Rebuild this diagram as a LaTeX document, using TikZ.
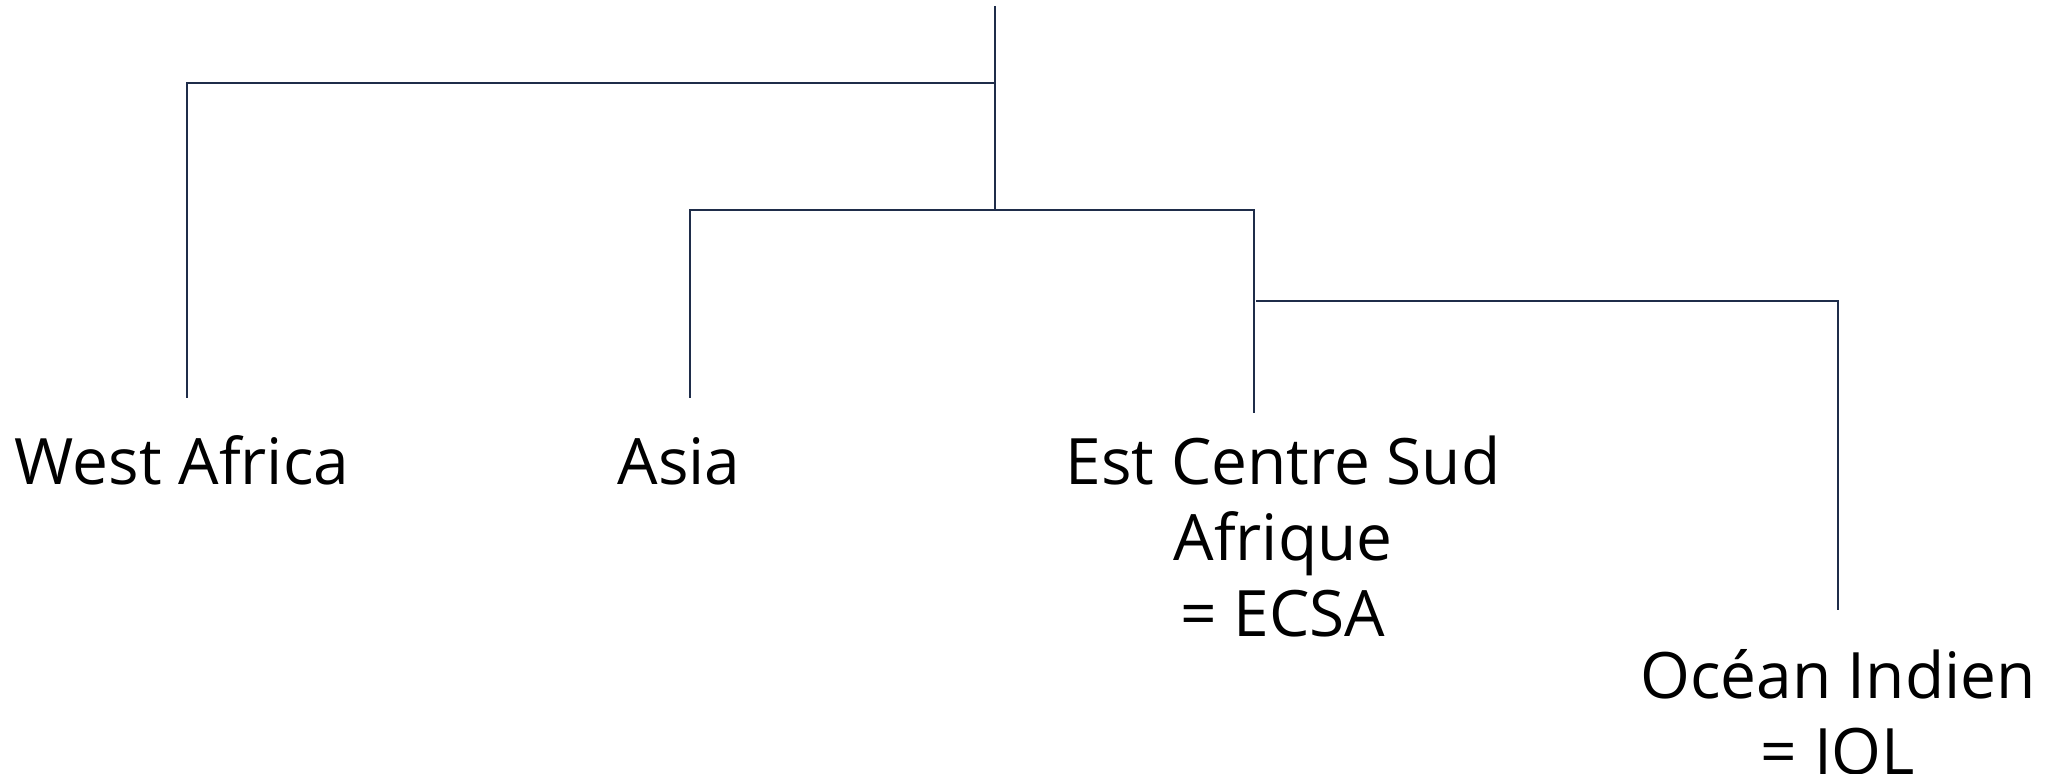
\documentclass[tikz,border=0pt]{standalone}
\usepackage{fontspec}
\setmainfont{Open Sans}
\definecolor{treeline}{HTML}{1F2D4A}
\begin{document}
\begin{tikzpicture}[x=0.5pt,y=-0.5pt,
  branch/.style={draw=treeline, line width=1pt},
  leaf/.style={font=\fontsize{32}{38}\selectfont, align=center, anchor=base,
               inner sep=0pt, text=black}]
\useasboundingbox (0,0) rectangle (2067,774);

% branch points of the tree
\coordinate (root) at (995,6);
\coordinate (j1) at (995,83);
\coordinate (j2) at (995,210);
\coordinate (j3) at (1256,301);
% ends of the leaf stems
\coordinate (wa-end) at (187,398);
\coordinate (as-end) at (690,398);
\coordinate (ec-end) at (1254,413);
\coordinate (io-end) at (1838,610);

% leaf labels (base anchor sits on the last line)
\node[leaf] (wa) at (182,485) {West Africa};
\node[leaf] (as) at (679,485) {Asia};
\node[leaf] (ec) at (1283,637) {Est Centre Sud\\Afrique\\= ECSA};
\node[leaf] (io) at (1838,774) {Océan Indien\\= IOL};

% tree
\draw[branch] (root) -- (j2);
\draw[branch] (j1) -| (wa-end);
\draw[branch] (as-end) |- (j2) -| (ec-end);
\draw[branch] (j3) -| (io-end);
\end{tikzpicture}
\end{document}
